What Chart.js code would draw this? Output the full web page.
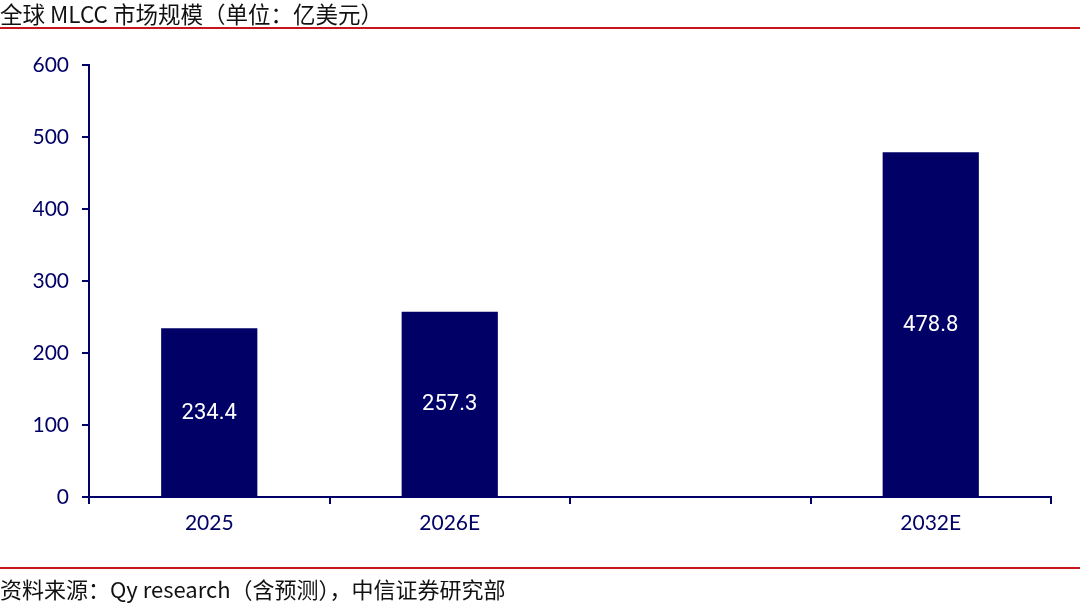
<!DOCTYPE html>
<html>
<head>
<meta charset="utf-8">
<script src="https://cdn.jsdelivr.net/npm/chart.js@4"></script>
<style>
  html, body { margin:0; padding:0; background:#fff; }
  #wrap { position:relative; width:1080px; height:603px; overflow:hidden; }
  #title { position:absolute; left:0; top:0; font-family:"Noto Sans CJK SC","Noto Sans",sans-serif; font-size:22.5px; line-height:27px; color:#111; white-space:nowrap; }
  #topline { position:absolute; left:0; top:27px; width:1080px; height:2px; background:#c8161d; }
  #botline { position:absolute; left:0; top:567px; width:1080px; height:2px; background:#c8161d; }
  #source { position:absolute; left:0; top:575px; font-family:"Noto Sans CJK SC","Noto Sans",sans-serif; font-size:22px; line-height:26px; color:#111; white-space:nowrap; }
  canvas { position:absolute; left:0; top:0; }
</style>
</head>
<body>
<div id="wrap">
  <canvas id="c" width="1080" height="603"></canvas>
  <div id="title">全球 MLCC 市场规模（单位：亿美元）</div>
  <div id="topline"></div>
  <div id="botline"></div>
  <div id="source">资料来源：Qy research（含预测），中信证券研究部</div>
</div>
<script>
const categories = ['2025', '2026E', '', '2032E'];
const marketSize = [234.4, 257.3, null, 478.8];
const yTicks = [0, 100, 200, 300, 400, 500, 600];

const NAVY = '#000066';

const barLabels = {
  id: 'barLabels',
  afterDatasetsDraw(chart) {
    const ctx = chart.ctx;
    const meta = chart.getDatasetMeta(0);
    ctx.save();
    ctx.fillStyle = '#ffffff';
    ctx.font = '22px Roboto, "Noto Sans", sans-serif';
    ctx.textAlign = 'center';
    ctx.textBaseline = 'middle';
    meta.data.forEach((bar, i) => {
      const v = marketSize[i];
      if (v === null || v === undefined) return;
      const mid = (bar.y + bar.base) / 2;
      ctx.fillText(v.toFixed(1), bar.x, mid + 1);
    });
    ctx.restore();
  }
};

new Chart(document.getElementById('c'), {
  type: 'bar',
  data: {
    labels: categories,
    datasets: [{
      data: marketSize,
      backgroundColor: NAVY,
      borderWidth: 0,
      categoryPercentage: 1.0,
      barPercentage: 0.4
    }]
  },
  options: {
    responsive: false,
    animation: false,
    devicePixelRatio: 1,
    layout: { padding: { top: 65, right: 29, left: 0, bottom: 0 } },
    plugins: { legend: { display: false }, tooltip: { enabled: false } },
    scales: {
      x: {
        offset: true,
        grid: { display: true, drawOnChartArea: false, offset: true, color: NAVY, lineWidth: 2, tickLength: 7, tickWidth: 2 },
        border: { display: true, color: NAVY, width: 2 },
        ticks: { color: NAVY, font: { family: 'Lato, "Noto Sans", sans-serif', size: 21 }, padding: 7, maxRotation: 0 },
        afterFit(scale) { scale.height = 106; }
      },
      y: {
        min: 0, max: 600,
        afterBuildTicks(scale) { scale.ticks = yTicks.map(v => ({ value: v })); },
        grid: { display: true, drawOnChartArea: false, color: NAVY, lineWidth: 2, tickLength: 7, tickWidth: 2 },
        border: { display: true, color: NAVY, width: 2 },
        ticks: { color: NAVY, font: { family: 'Lato, "Noto Sans", sans-serif', size: 21 }, padding: 13 },
        afterFit(scale) { scale.width = 89; }
      }
    }
  },
  plugins: [barLabels]
});
</script>
</body>
</html>
